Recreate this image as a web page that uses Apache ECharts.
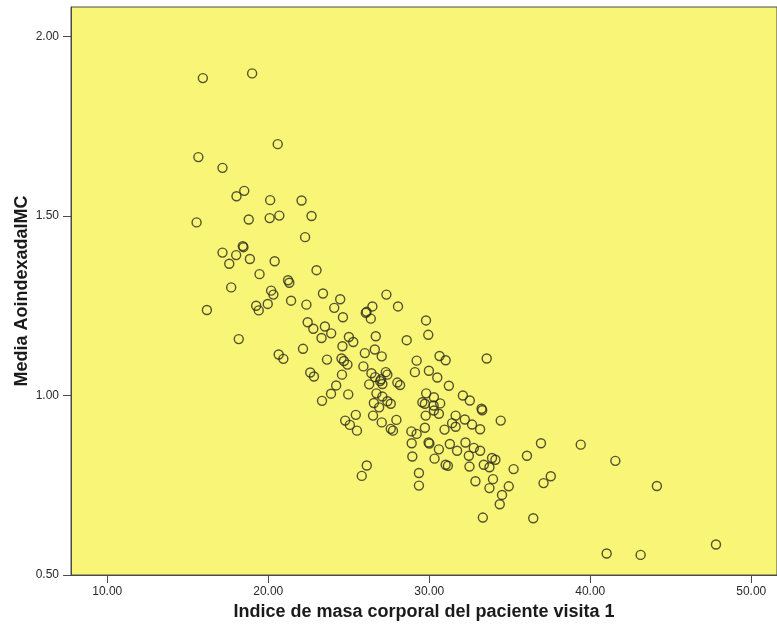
<!DOCTYPE html>
<html>
<head>
<meta charset="utf-8">
<script src="https://cdn.jsdelivr.net/npm/echarts@6/dist/echarts.min.js"></script>
<style>
html,body{margin:0;padding:0;background:#fff;}
#chart{width:777px;height:633px;}
</style>
</head>
<body>
<div id="chart"></div>
<script>
// Indice de masa corporal (x)
var imc = [
15.94,19.00,20.59,15.66,17.16,18.51,18.03,20.12,22.07,15.55,
18.79,20.09,20.69,22.69,22.29,18.42,18.46,17.16,18.01,17.58,
18.86,20.40,19.46,23.00,17.70,21.23,21.31,20.18,20.32,23.40,
16.19,19.25,19.41,19.97,21.42,22.37,24.47,24.10,18.17,22.45,
22.80,23.52,23.91,23.31,22.16,20.65,20.94,23.65,22.61,22.84,
24.22,23.90,23.34,27.34,26.47,28.06,26.06,26.11,26.37,24.64,
29.80,29.94,25.01,25.28,26.68,28.60,24.61,26.62,26.00,27.05,
24.55,24.70,24.92,25.91,29.22,30.64,31.02,26.41,26.64,26.95,
27.01,27.30,27.40,29.11,29.98,30.50,24.58,26.27,28.02,28.19,
31.22,27.09,24.97,26.72,27.09,26.56,27.40,27.61,29.81,29.57,
29.73,30.29,30.68,32.09,32.52,25.44,24.78,25.07,25.51,26.89,
26.51,27.05,27.96,27.61,27.75,30.27,29.78,30.29,30.60,31.64,
28.89,29.22,29.73,30.95,31.42,31.64,28.91,29.96,30.01,31.28,
30.60,31.73,28.95,30.33,31.02,31.16,26.12,25.81,29.36,29.36,
33.57,33.25,33.29,32.21,32.66,33.16,34.44,32.25,32.77,33.16,
32.46,36.94,39.41,36.07,33.90,34.11,33.39,33.74,32.50,35.24,
32.87,33.96,33.74,34.94,37.55,37.10,34.52,34.38,33.33,36.46,
41.56,44.14,47.81,41.02,43.13
];
// Media AoindexadaIMC (y)
var aoIndexada = [
1.884,1.897,1.700,1.664,1.634,1.570,1.555,1.544,1.543,1.482,
1.490,1.494,1.501,1.500,1.441,1.416,1.413,1.398,1.391,1.367,
1.380,1.374,1.338,1.349,1.301,1.321,1.314,1.292,1.281,1.284,
1.238,1.250,1.237,1.255,1.264,1.253,1.268,1.244,1.157,1.204,
1.186,1.192,1.173,1.160,1.130,1.114,1.102,1.100,1.064,1.053,
1.028,1.005,0.985,1.281,1.248,1.248,1.230,1.233,1.214,1.218,
1.209,1.169,1.163,1.149,1.165,1.154,1.137,1.128,1.118,1.109,
1.103,1.096,1.086,1.081,1.097,1.110,1.098,1.062,1.051,1.040,
1.045,1.065,1.058,1.065,1.069,1.050,1.058,1.031,1.036,1.029,
1.027,1.032,1.003,1.006,0.997,0.979,0.984,0.977,1.006,0.981,
0.977,0.995,0.978,1.000,0.986,0.946,0.930,0.918,0.902,0.967,
0.944,0.925,0.932,0.907,0.902,0.972,0.944,0.958,0.949,0.944,
0.900,0.893,0.910,0.905,0.923,0.913,0.867,0.869,0.866,0.865,
0.850,0.846,0.830,0.824,0.807,0.804,0.805,0.776,0.784,0.749,
1.103,0.963,0.959,0.933,0.919,0.906,0.930,0.869,0.854,0.846,
0.832,0.867,0.863,0.832,0.826,0.821,0.807,0.800,0.802,0.795,
0.761,0.767,0.742,0.747,0.775,0.756,0.723,0.697,0.660,0.658,
0.818,0.748,0.585,0.560,0.556
];
var xTicks = [10, 20, 30, 40, 50];
var yTicks = [0.5, 1.0, 1.5, 2.0];
var xTitle = 'Indice de masa corporal del paciente visita 1';
var yTitle = 'Media AoindexadaIMC';

var points = imc.map(function (v, i) { return [v, aoIndexada[i]]; });

var chart = echarts.init(document.getElementById('chart'), null, {renderer: 'canvas'});
var fontFam = '"Liberation Sans", Arial, sans-serif';
chart.setOption({
  animation: false,
  backgroundColor: '#ffffff',
  grid: {
    left: 71, top: 7, right: -2, bottom: 58,
    show: true,
    backgroundColor: '#F9F576',
    borderColor: '#4a4a4a',
    borderWidth: 1
  },
  xAxis: {
    type: 'value',
    min: 7.75, max: 51.6,
    name: xTitle,
    nameLocation: 'middle',
    nameGap: 28,
    nameMoveOverlap: false,
    nameTextStyle: {fontFamily: fontFam, fontWeight: 'bold', fontSize: 18, color: '#1a1a1a'},
    splitLine: {show: false},
    axisLine: {show: true, lineStyle: {color: '#4a4a4a', width: 1}},
    axisTick: {show: true, length: 8, customValues: xTicks, lineStyle: {color: '#4a4a4a'}},
    axisLabel: {
      customValues: xTicks, margin: 11, fontFamily: fontFam, fontSize: 12, color: '#2a2a2a',
      formatter: function (v) { return v.toFixed(2); }
    }
  },
  yAxis: {
    type: 'value',
    min: 0.5, max: 2.082,
    name: yTitle,
    nameLocation: 'middle',
    nameGap: 40,
    nameMoveOverlap: false,
    nameRotate: 90,
    nameTextStyle: {fontFamily: fontFam, fontWeight: 'bold', fontSize: 18, color: '#1a1a1a'},
    splitLine: {show: false},
    axisLine: {show: true, lineStyle: {color: '#4a4a4a', width: 1}},
    axisTick: {show: true, length: 8, customValues: yTicks, lineStyle: {color: '#4a4a4a'}},
    axisLabel: {
      customValues: yTicks, margin: 12, fontFamily: fontFam, fontSize: 12, color: '#2a2a2a',
      formatter: function (v) { return v.toFixed(2); }
    }
  },
  series: [{
    type: 'scatter',
    data: points,
    symbol: 'circle',
    symbolSize: 9,
    itemStyle: {color: 'rgba(0,0,0,0)', borderColor: '#2a2a18', borderWidth: 1.4},
    emphasis: {disabled: true}
  }]
});
</script>
</body>
</html>
